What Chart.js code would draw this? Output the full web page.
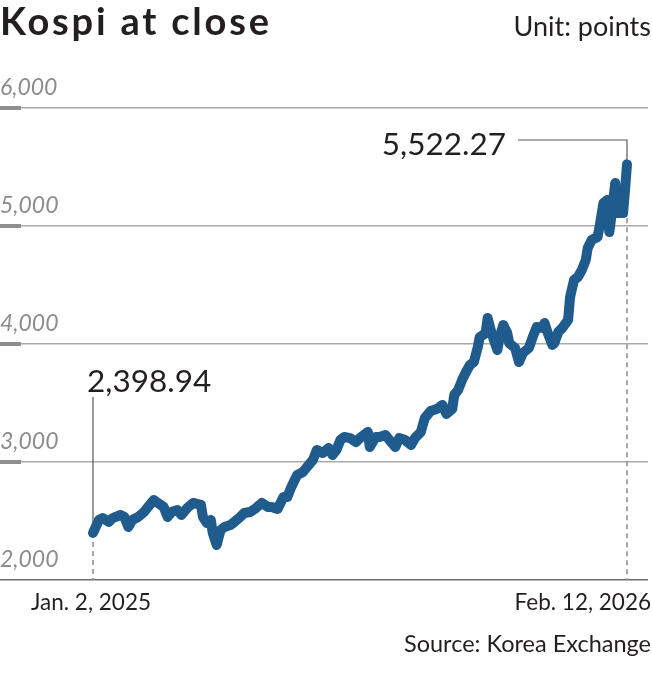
<!DOCTYPE html>
<html>
<head>
<meta charset="utf-8">
<script src="https://cdn.jsdelivr.net/npm/chart.js@4.4.1/dist/chart.umd.min.js"></script>
<style>
  html, body { margin: 0; padding: 0; background: #fff; }
  #wrap { position: relative; width: 652px; height: 691px; overflow: hidden; }
  #chart { position: absolute; left: 0; top: 0; }
  .txt { position: absolute; font-family: Lato, sans-serif; color: #231f20; line-height: 1; white-space: nowrap; }
  #title { left: 0; top: 1px; font-size: 38px; font-weight: 700; letter-spacing: 2.8px; }
  #unit { right: 1px; top: 12px; font-size: 27px; }
  #source { right: 1px; top: 632px; font-size: 23.5px; }
</style>
</head>
<body>
<div id="wrap">
  <canvas id="chart" width="652" height="691"></canvas>
  <div class="txt" id="title">Kospi at close</div>
  <div class="txt" id="unit">Unit: points</div>
  <div class="txt" id="source">Source: Korea Exchange</div>
</div>
<script>
// Kospi closes (x = trading day counted from Jan. 2, 2025)
const tradingDay = [0, 3, 5, 8, 10, 14, 16, 18, 20, 23, 26, 28, 31, 33, 36, 38, 40, 43, 45, 48,
  51, 55, 56, 58, 60, 61, 63, 65, 67, 70, 72, 75, 77, 80, 83, 86, 89, 91, 94, 97,
  99, 101, 104, 107, 109, 112, 114, 117, 120, 122, 124, 126, 128, 131, 134, 136, 140, 141, 144, 146,
  149, 151, 154, 156, 159, 162, 164, 167, 169, 172, 175, 178, 180, 183, 184, 186, 188, 190, 192, 194,
  196, 197, 200, 201, 203, 206, 207, 209, 211, 212, 215, 217, 219, 222, 224, 226, 229, 230, 232, 234,
  235, 237, 239, 242, 243, 245, 247, 249, 251, 252, 254, 257, 258, 260, 262, 263, 264, 266, 267, 270,
  271, 272];
const closes = [2398.94, 2508, 2525, 2492, 2525, 2551, 2534, 2449, 2508, 2534, 2576, 2619, 2678, 2653, 2619, 2534, 2576, 2593, 2551, 2610,
  2653, 2636, 2534, 2483, 2508, 2398, 2297, 2424, 2449, 2466, 2492, 2534, 2568, 2576, 2610, 2653, 2619, 2619, 2602, 2703,
  2703, 2788, 2890, 2915, 2958, 3017, 3102, 3076, 3119, 3059, 3102, 3186, 3212, 3203, 3169, 3203, 3254, 3127, 3212, 3212,
  3229, 3186, 3127, 3203, 3186, 3144, 3203, 3254, 3373, 3432, 3449, 3483, 3407, 3449, 3568, 3610, 3695, 3763, 3822, 3847,
  3975, 4059, 4093, 4220, 4093, 3949, 4051, 4161, 4093, 4008, 3966, 3847, 3924, 3966, 4059, 4144, 4136, 4178, 4076, 3992,
  4008, 4102, 4136, 4203, 4398, 4542, 4568, 4627, 4712, 4814, 4881, 4907, 4992, 5195, 5220, 4949, 5076, 5364, 5110, 5110,
  5305, 5522.27];
const yTicks = [2000, 3000, 4000, 5000, 6000];
const firstLabel = 'Jan. 2, 2025';
const lastLabel = 'Feb. 12, 2026';

const lineBlue = '#1f5b8d';
const font = 'Lato, sans-serif';

// short thick marks at the left end of the grid lines
const tickMarks = {
  id: 'tickMarks',
  beforeDatasetsDraw(chart) {
    const ctx = chart.ctx, y = chart.scales.y;
    ctx.save();
    ctx.fillStyle = '#8e8e8e';
    y.ticks.forEach(t => {
      if (t.value === y.min) return;
      const py = y.getPixelForValue(t.value);
      ctx.fillRect(0, py - 2, 21, 4);
    });
    ctx.restore();
  }
};

// leader lines, value call-outs and the two date labels
const callouts = {
  id: 'callouts',
  beforeDatasetsDraw(chart) {
    const ctx = chart.ctx, xs = chart.scales.x, ys = chart.scales.y;
    const n = closes.length - 1;
    const x0 = xs.getPixelForValue(tradingDay[0]), y0 = ys.getPixelForValue(closes[0]);
    const xn = xs.getPixelForValue(tradingDay[n]), yn = ys.getPixelForValue(closes[n]);
    const bottom = chart.chartArea.bottom;
    ctx.save();
    ctx.strokeStyle = '#58595b';
    ctx.lineWidth = 1.2;
    ctx.beginPath();
    ctx.moveTo(x0, 397); ctx.lineTo(x0, y0);
    ctx.moveTo(xn - 109, 140); ctx.lineTo(xn, 140); ctx.lineTo(xn, yn);
    ctx.stroke();
    ctx.strokeStyle = '#8a8a8a';
    ctx.lineWidth = 1.5;
    ctx.setLineDash([5, 4]);
    ctx.beginPath();
    ctx.moveTo(x0, y0); ctx.lineTo(x0, bottom);
    ctx.moveTo(xn, yn); ctx.lineTo(xn, bottom);
    ctx.stroke();
    ctx.restore();
  },
  afterDraw(chart) {
    const ctx = chart.ctx, xs = chart.scales.x;
    const n = closes.length - 1;
    const x0 = xs.getPixelForValue(tradingDay[0]);
    const xn = xs.getPixelForValue(tradingDay[n]);
    const fmt = v => v.toLocaleString('en-US', { minimumFractionDigits: 2 });
    ctx.save();
    ctx.fillStyle = '#231f20';
    ctx.textBaseline = 'alphabetic';
    ctx.font = '31.5px ' + font;
    ctx.textAlign = 'left';
    ctx.fillText(fmt(closes[0]), x0 - 6, 392);
    ctx.textAlign = 'right';
    ctx.fillText(fmt(closes[n]), xn - 121, 155);
    ctx.font = '22.5px ' + font;
    ctx.textAlign = 'center';
    ctx.fillText(firstLabel, x0 - 2, 610);
    ctx.textAlign = 'right';
    ctx.fillText(lastLabel, 651, 610);
    ctx.restore();
  }
};

new Chart(document.getElementById('chart'), {
  type: 'line',
  data: {
    datasets: [{
      data: tradingDay.map((d, i) => ({ x: d, y: closes[i] })),
      borderColor: lineBlue,
      borderWidth: 10,
      borderCapStyle: 'round',
      borderJoinStyle: 'round',
      pointRadius: 0,
      tension: 0,
      clip: false
    }]
  },
  options: {
    responsive: false,
    animation: false,
    layout: { padding: { top: 108, bottom: 111, left: 0, right: 4 } },
    plugins: { legend: { display: false }, tooltip: { enabled: false } },
    scales: {
      x: { type: 'linear', display: false, min: -47.37, max: 282.7 },
      y: {
        min: 2000, max: 6000,
        afterBuildTicks: s => { s.ticks = yTicks.map(v => ({ value: v })); },
        border: { display: false },
        grid: {
          drawTicks: false,
          lineWidth: 1.5,
          color: c => (c.tick && c.tick.value === 2000 ? '#6d6e71' : '#a7a9ac')
        },
        ticks: {
          mirror: true,
          padding: 0,
          labelOffset: -20,
          color: '#8c8c8c',
          font: { family: font, size: 23, style: 'italic' },
          callback: v => v.toLocaleString('en-US')
        }
      }
    }
  },
  plugins: [tickMarks, callouts]
});
</script>
</body>
</html>
